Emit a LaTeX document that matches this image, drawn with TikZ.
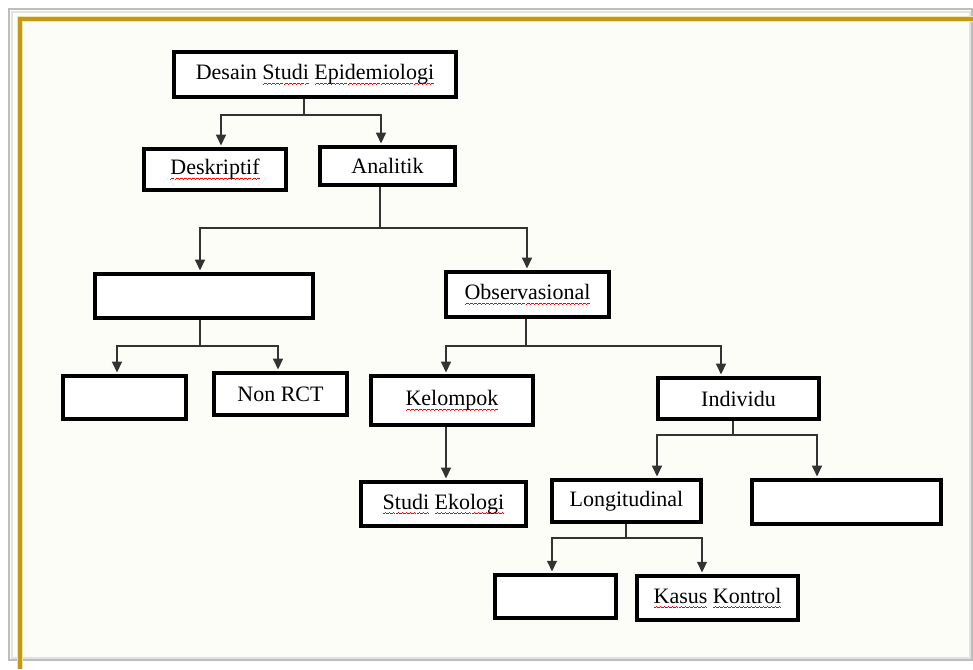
\documentclass[tikz,border=0pt]{standalone}
\usepackage{fontspec}
\setmainfont{Liberation Serif}
\usetikzlibrary{arrows.meta}

\definecolor{paper}{HTML}{FDFDF7}
\definecolor{framegray}{HTML}{BDBDBD}
\definecolor{framelight}{HTML}{E2E2E2}
\definecolor{gold}{HTML}{C49A12}
\definecolor{goldhalo}{HTML}{F0E4B4}
\definecolor{wire}{HTML}{333333}

\newcommand\boxfont{\fontsize{16.5}{19}\selectfont}

% red wavy underline (spell-check mark) built from small stepped rules
\newcommand\wavebit{%
  \rule[-3.9pt]{0.75pt}{0.65pt}\rule[-3.4pt]{0.75pt}{0.65pt}%
  \rule[-2.9pt]{0.75pt}{0.65pt}\rule[-3.4pt]{0.75pt}{0.65pt}}
\newcommand\redwave[1]{%
  \setbox0=\hbox{#1}%
  \rlap{\textcolor{red}{\xleaders\hbox{\wavebit}\hskip\wd0}}%
  \box0\relax}

\tikzset{
  box/.style 2 args={draw=black, line width=3pt, fill=white, inner sep=0pt,
    minimum width={(#1-4)*0.75pt}, minimum height={(#2-4)*0.75pt},
    font=\boxfont, text=black},
  link/.style={draw=wire, line width=1pt},
  tip/.style={-{Triangle[width=7.5pt,length=8pt]}, shorten >=1.2pt},
}

\begin{document}
\begin{tikzpicture}[x=0.75pt, y=-0.75pt]
\useasboundingbox (0,0) rectangle (973,669);

% page frame
\fill[white] (0,0) rectangle (973,669);
\fill[paper] (9,9) rectangle (972,660);
\draw[framelight, line width=1.5pt] (11.5,11.5) rectangle (969.5,657.5);
\draw[framegray, line width=1.8pt] (9,9) rectangle (972,660);
\draw[goldhalo, line width=5pt] (20,669) -- (20,19) -- (973,19);
\draw[gold, line width=2.8pt] (20,669) -- (20,19) -- (973,19);

% boxes
\node[box={286}{49}] (top)    at (315,74.5)   {Desain \redwave{Studi} \redwave{Epidemiologi}};
\node[box={146}{45}] (desk)   at (215,169.5)  {\redwave{Deskriptif}};
\node[box={139}{42}] (anal)   at (387.5,166)  {Analitik};
\node[box={222}{48}] (eksp)   at (204,296)    {};
\node[box={127}{47}] (rct)    at (124.5,397.5){};
\node[box={137}{46}] (nonrct) at (280.5,394)  {Non RCT};
\node[box={167}{49}] (obs)    at (527.5,294.5){\redwave{Observasional}};
\node[box={166}{53}] (kel)    at (452,400.5)  {\redwave{Kelompok}};
\node[box={165}{45}] (ind)    at (738.5,398.5){Individu};
\node[box={169}{48}] (eko)    at (443.5,504)  {\redwave{Studi} \redwave{Ekologi}};
\node[box={153}{46}] (long)   at (626.5,501)  {Longitudinal};
\node[box={193}{48}] (cross)  at (846.5,502)  {};
\node[box={125}{47}] (kohort) at (555.5,596.5){};
\node[box={165}{48}] (kasus)  at (717.5,598)  {\redwave{Kasus} \redwave{Kontrol}};

% branch points and arrow columns
\coordinate (j1) at (304,115);
\coordinate (x1) at (221,0);  \coordinate (x2) at (381,0);
\coordinate (j2) at (380,228);
\coordinate (x3) at (200,0);  \coordinate (x4) at (527,0);
\coordinate (j3) at (200,346);
\coordinate (x5) at (117,0);  \coordinate (x6) at (278,0);
\coordinate (j4) at (526,346);
\coordinate (x7) at (446,0);  \coordinate (x8) at (721,0);
\coordinate (j5) at (733,435);
\coordinate (x9) at (657,0);  \coordinate (x10) at (817,0);
\coordinate (j6) at (626,538);
\coordinate (x11) at (552,0); \coordinate (x12) at (702,0);

% connectors
\draw[link] (top.south -| j1) -- (j1);
\draw[link,tip] (j1) -| (desk.north -| x1);
\draw[link,tip] (j1) -| (anal.north -| x2);

\draw[link] (anal.south -| j2) -- (j2);
\draw[link,tip] (j2) -| (eksp.north -| x3);
\draw[link,tip] (j2) -| (obs.north -| x4);

\draw[link] (eksp.south -| j3) -- (j3);
\draw[link,tip] (j3) -| (rct.north -| x5);
\draw[link,tip] (j3) -| (nonrct.north -| x6);

\draw[link] (obs.south -| j4) -- (j4);
\draw[link,tip] (j4) -| (kel.north -| x7);
\draw[link,tip] (j4) -| (ind.north -| x8);

\draw[link,tip] (kel.south -| x7) -- (eko.north -| x7);

\draw[link] (ind.south -| j5) -- (j5);
\draw[link,tip] (j5) -| (long.north -| x9);
\draw[link,tip] (j5) -| (cross.north -| x10);

\draw[link] (long.south -| j6) -- (j6);
\draw[link,tip] (j6) -| (kohort.north -| x11);
\draw[link,tip] (j6) -| (kasus.north -| x12);
\end{tikzpicture}
\end{document}
